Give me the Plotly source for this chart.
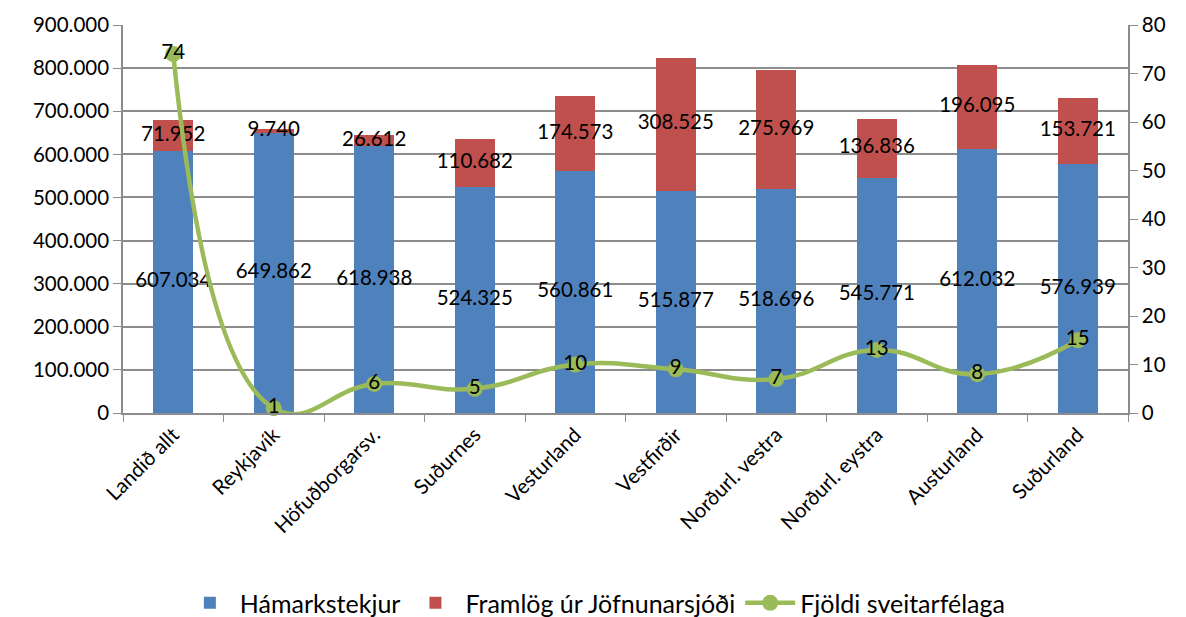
import plotly.graph_objects as go

categories = ["Landið allt", "Reykjavík", "Höfuðborgarsv.", "Suðurnes", "Vesturland",
              "Vestfirðir", "Norðurl. vestra", "Norðurl. eystra", "Austurland", "Suðurland"]
hamarkstekjur = [607034, 649862, 618938, 524325, 560861, 515877, 518696, 545771, 612032, 576939]
framlog = [71952, 9740, 26612, 110682, 174573, 308525, 275969, 136836, 196095, 153721]
fjoldi = [74, 1, 6, 5, 10, 9, 7, 13, 8, 15]

left_ticks = [0, 100000, 200000, 300000, 400000, 500000, 600000, 700000, 800000, 900000]
right_ticks = [0, 10, 20, 30, 40, 50, 60, 70, 80]

BLUE = "#4F81BD"
RED = "#C0504D"
GREEN = "#9BBB59"
GRID = "#8C8C8C"
FONT = "Lato"
FS = 20.5


def fmt(v):
    return f"{v:,}".replace(",", ".")


fig = go.Figure()
fig.add_trace(go.Bar(x=categories, y=hamarkstekjur, name="Hámarkstekjur",
                     marker=dict(color=BLUE, line=dict(width=0))))
fig.add_trace(go.Bar(x=categories, y=framlog, name="Framlög úr Jöfnunarsjóði",
                     marker=dict(color=RED, line=dict(width=0))))

# data labels for bars
fig.add_trace(go.Scatter(x=categories, y=[b / 2 for b in hamarkstekjur], mode="text",
                         text=[fmt(b) for b in hamarkstekjur], textposition="middle center",
                         textfont=dict(family=FONT, size=FS, color="black"),
                         showlegend=False, hoverinfo="skip", cliponaxis=False))
fig.add_trace(go.Scatter(x=categories, y=[b + r / 2 for b, r in zip(hamarkstekjur, framlog)],
                         mode="text", text=[fmt(r) for r in framlog], textposition="middle center",
                         textfont=dict(family=FONT, size=FS, color="black"),
                         showlegend=False, hoverinfo="skip", cliponaxis=False))

fig.add_trace(go.Scatter(x=categories, y=fjoldi, name="Fjöldi sveitarfélaga", yaxis="y2",
                         mode="lines+markers+text", text=[str(v) for v in fjoldi],
                         textposition="middle center",
                         textfont=dict(family=FONT, size=FS, color="black"),
                         line=dict(color=GREEN, width=4.5, shape="spline", smoothing=1.3),
                         marker=dict(color=GREEN, size=16), cliponaxis=False))

fig.update_layout(
    width=1186, height=617,
    margin=dict(l=123, r=58, t=25, b=204, autoexpand=False),
    barmode="stack", bargap=0.6,
    paper_bgcolor="white", plot_bgcolor="white",
    separators=",.",
    font=dict(family=FONT, size=FS, color="black"),
    showlegend=True,
    legend=dict(orientation="h", x=0.47, xanchor="center", y=-0.49, yanchor="middle",
                font=dict(family=FONT, size=25), traceorder="normal", itemwidth=50),
    xaxis=dict(type="category", range=[-0.5, len(categories) - 0.5], tickangle=-45,
               ticks="outside", tickson="boundaries",
               ticklen=7, tickcolor=GRID, showline=True, linecolor=GRID, linewidth=1.5,
               automargin=False, tickfont=dict(family=FONT, size=FS)),
    yaxis=dict(range=[0, 900000], tickvals=left_ticks, ticktext=[fmt(v) for v in left_ticks],
               showgrid=True, gridcolor=GRID, gridwidth=1.5, ticks="outside", ticklen=8,
               tickcolor=GRID, showline=True, linecolor=GRID, linewidth=1.5, zeroline=False,
               automargin=False, tickfont=dict(family=FONT, size=FS)),
    yaxis2=dict(range=[0, 80], tickvals=right_ticks, overlaying="y", side="right",
                showgrid=False, ticks="outside", ticklen=8, tickcolor=GRID, showline=True,
                linecolor=GRID, linewidth=1.5, zeroline=False, automargin=False,
                tickfont=dict(family=FONT, size=FS)),
)

fig.write_html("out.html")
